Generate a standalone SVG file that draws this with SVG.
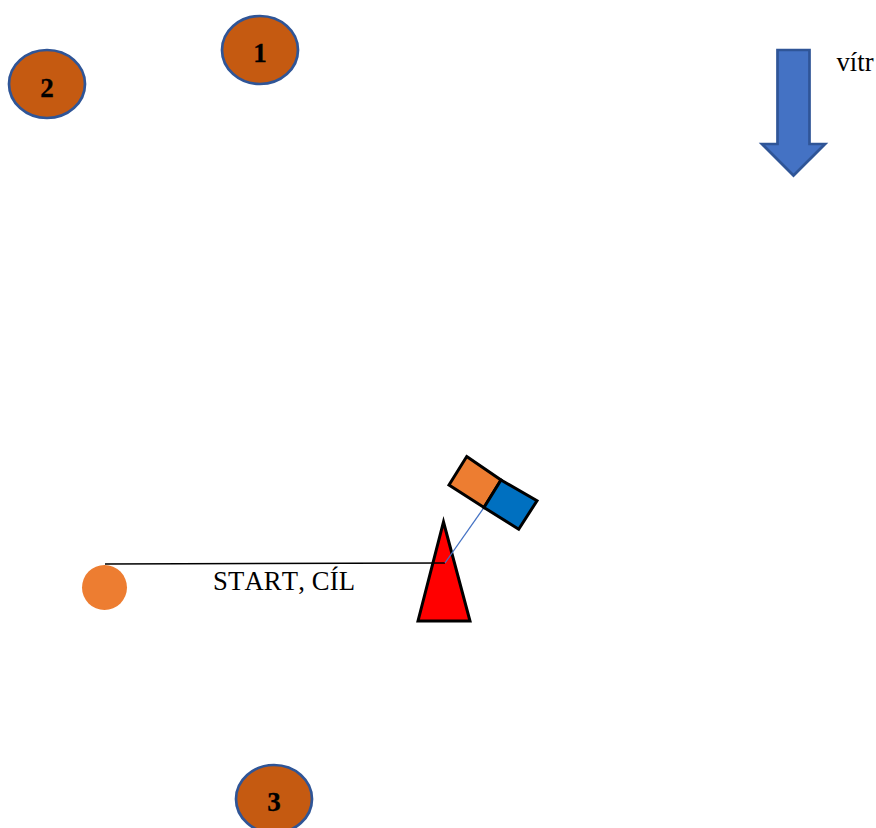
<svg xmlns="http://www.w3.org/2000/svg" width="876" height="828" viewBox="0 0 876 828">
<style>
.buoy{fill:#c55a11;stroke:#2f5597;stroke-width:2.7}
.num{font:bold 27px "Liberation Serif",serif;fill:#000;stroke:#000;stroke-width:.3;text-anchor:middle}
.lbl{font:26.67px "Liberation Serif",serif;fill:#000;font-kerning:none}
.boat{stroke:#000;stroke-width:3;stroke-linejoin:miter}
</style>
<rect width="876" height="828" fill="#fff"/>
<g id="buoy-1"><ellipse class="buoy" cx="260" cy="50" rx="38" ry="34"/><text class="num" x="260" y="62">1</text></g>
<g id="buoy-2"><ellipse class="buoy" cx="47" cy="84" rx="38" ry="34"/><text class="num" x="47" y="96.500">2</text></g>
<g id="buoy-3"><ellipse class="buoy" cx="274" cy="799" rx="38" ry="34"/><text class="num" x="274" y="811">3</text></g>
<g id="wind">
<polygon points="777.500,50 809.500,50 809.500,144 825,144 793.500,175.500 762,144 777.500,144" fill="#4472c4" stroke="#2f5597" stroke-width="2.700"/>
<text class="lbl" x="836.500" y="71">vítr</text>
</g>
<g id="start-mark"><circle cx="104.500" cy="587.500" r="22.500" fill="#ed7d31"/></g>
<g id="start-label"><text class="lbl" x="213" y="590" textLength="142">START, CÍL</text></g>
<g id="mark-triangle"><polygon class="boat" points="443.500,522 470,621 418,621" fill="#f00"/></g>
<g id="connectors" fill="none">
<line x1="105" y1="564" x2="445" y2="563" stroke="#000" stroke-width="1.500"/>
<line x1="484" y1="507.500" x2="445" y2="563" stroke="#4472c4" stroke-width="1.300"/>
</g>
<g id="boat">
<polygon class="boat" points="466.700,456.500 501,480 484,507.500 449,485" fill="#ed7d31"/>
<polygon class="boat" points="501,480 537,500.700 518.700,529.300 484,507.500" fill="#0070c0"/>
</g>
</svg>
